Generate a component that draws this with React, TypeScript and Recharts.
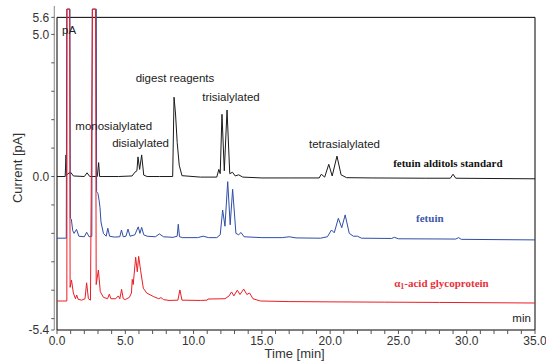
import { LineChart, Line, XAxis, YAxis, ReferenceLine, ReferenceDot } from 'recharts';

// retention time [min] and detector current [pA] for each trace
const standardTime = [0, 0.6, 0.66, 0.7, 0.8, 1.0, 1.2, 2.0, 2.2, 2.4, 2.95, 3.05, 3.12, 3.3, 4.5, 5.5, 5.7, 5.85, 5.93, 6.05, 6.2, 6.35, 6.6, 7.5, 8.47, 8.57, 8.68, 8.8, 8.95, 9.15, 10.5, 11.7, 11.85, 11.95, 12.08, 12.25, 12.45, 12.65, 12.85, 13.05, 13.3, 13.6, 15, 17, 19.2, 19.35, 19.6, 19.9, 20.15, 20.5, 20.8, 21.2, 23, 27, 28.8, 29.0, 29.2, 32, 35];
const standardCurrent = [0, 0, 0.76, 0.05, 0.1, 0.15, 0.02, 0, 0.13, 0, 0, 0.49, 0, 0, 0, 0.02, 0.15, 0.2, 0.69, 0.25, 0.76, 0.05, 0, 0, 0, 2.79, 2.2, 1.2, 0.4, 0.03, -0.02, -0.02, 0.25, 0.1, 2.19, 0.2, 2.34, 0.1, 0.15, 0.02, 0.06, -0.02, -0.05, -0.05, -0.05, 0.08, -0.02, 0.43, 0.02, 0.72, 0.06, -0.04, -0.05, -0.06, -0.06, 0.08, -0.06, -0.07, -0.08];

const fetuinTime = [0, 0.68, 0.71, 0.95, 0.98, 1.05, 1.15, 1.25, 1.43, 1.6, 2.0, 2.17, 2.35, 2.55, 2.58, 2.88, 2.9, 3.0, 3.08, 3.15, 3.22, 3.4, 3.6, 3.72, 3.85, 4.2, 4.6, 4.72, 4.85, 5.05, 5.2, 5.35, 5.7, 5.95, 6.07, 6.2, 6.35, 6.6, 7.2, 7.5, 7.8, 8.5, 8.8, 8.88, 8.97, 9.2, 10.3, 10.7, 11.1, 11.7, 11.95, 12.13, 12.3, 12.5, 12.68, 12.86, 13.1, 13.3, 13.47, 13.7, 15, 16.5, 17, 17.5, 19.3, 19.8, 20.1, 20.3, 20.6, 20.85, 21.1, 21.4, 21.7, 22.0, 22.3, 24.5, 24.7, 25, 29.2, 29.4, 29.6, 35];
const fetuinCurrent = [-2.17, -2.17, 5.89, 5.89, -1.47, -1.5, -1.9, -2.0, -1.86, -2.1, -2.12, -1.96, -2.12, -2.1, 5.89, 5.89, -0.53, -0.6, -0.83, -1.1, -1.6, -2.0, -2.1, -1.82, -2.1, -2.13, -2.12, -1.88, -2.12, -2.1, -1.85, -2.1, -2.05, -1.77, -2.0, -1.79, -2.05, -2.1, -2.12, -2.02, -2.12, -2.14, -2.1, -1.68, -2.12, -2.15, -2.15, -2.1, -2.15, -2.15, -2.05, -1.18, -1.75, -0.18, -1.7, -0.45, -2.0, -2.05, -1.97, -2.12, -2.15, -2.15, -2.12, -2.16, -2.17, -2.12, -1.88, -1.98, -1.47, -1.8, -1.35, -2.0, -2.1, -2.1, -2.17, -2.18, -2.14, -2.19, -2.2, -2.15, -2.21, -2.23];

const agpTime = [0, 0.72, 0.74, 0.92, 0.96, 1.06, 1.2, 1.35, 1.44, 1.55, 1.8, 2.05, 2.17, 2.3, 2.45, 2.6, 2.82, 2.87, 3.03, 3.17, 3.4, 3.7, 3.83, 3.95, 4.3, 4.49, 4.6, 4.73, 4.85, 5.0, 5.3, 5.45, 5.51, 5.58, 5.76, 5.88, 5.98, 6.12, 6.32, 6.57, 7.05, 7.45, 7.61, 7.8, 8.2, 8.85, 9.0, 9.15, 10.5, 11.0, 11.05, 12.3, 12.6, 12.78, 12.95, 13.2, 13.4, 13.67, 13.9, 14.1, 14.35, 14.9, 17, 20, 24, 28, 35];
const agpCurrent = [-4.38, -4.38, 5.89, 5.89, -3.9, -3.64, -4.1, -4.3, -4.17, -4.32, -4.35, -4.3, -3.74, -4.3, -4.35, 5.89, 5.89, -3.8, -3.29, -4.05, -4.25, -4.3, -4.14, -4.3, -4.3, -4.2, -4.3, -3.97, -4.3, -4.33, -4.25, -4.1, -3.62, -3.8, -2.84, -3.35, -2.81, -3.3, -3.93, -4.1, -4.22, -4.3, -4.26, -4.33, -4.36, -4.35, -3.99, -4.35, -4.36, -4.35, -4.31, -4.3, -4.2, -4.06, -4.2, -4.0, -4.15, -3.96, -4.15, -4.1, -4.3, -4.38, -4.4, -4.41, -4.42, -4.43, -4.45];

const xTicks = Array.from({ length: 36 }, (_, i) => i);
const yTicks = [-5.4, -5, -4, -3, -2, -1, 0, 1, 2, 3, 4, 5, 5.6];
const yLabelled = [-5.4, 0, 5, 5.6];

const toPoints = (ts: number[], vs: number[]) => ts.map((t, i) => ({ t, v: vs[i] }));

const SANS = 'Liberation Sans, Arial, sans-serif';
const SERIF = 'Liberation Serif, Times New Roman, serif';

type Note = { text: string; t: number; v: number; anchor?: 'start' | 'middle' | 'end'; color?: string; serif?: boolean };

const notes: Note[] = [
  { text: 'pA', t: 0.37, v: 5.15, anchor: 'start' },
  { text: 'monosialylated', t: 4.15, v: 1.78 },
  { text: 'disialylated', t: 6.12, v: 1.18 },
  { text: 'digest reagents', t: 8.64, v: 3.46 },
  { text: 'trisialylated', t: 12.74, v: 2.8 },
  { text: 'tetrasialylated', t: 21.05, v: 1.14 },
  { text: 'fetuin alditols standard', t: 28.62, v: 0.47, color: '#111', serif: true },
  { text: 'fetuin', t: 27.3, v: -1.46, color: '#3a58ad', serif: true },
  { text: 'min', t: 34.7, v: -4.97, anchor: 'end' },
];

function noteLabel(n: Note) {
  return (props: any) => {
    const vb = props.viewBox || {};
    return (
      <text
        x={vb.x}
        y={vb.y}
        textAnchor={n.anchor || 'middle'}
        dominantBaseline="central"
        fontFamily={n.serif ? SERIF : SANS}
        fontWeight={n.serif ? 'bold' : 'normal'}
        fontSize={n.serif ? 11 : 11.5}
        fill={n.color || '#222'}
      >
        {n.text}
      </text>
    );
  };
}

function agpLabel(props: any) {
  const vb = props.viewBox || {};
  return (
    <text x={vb.x} y={vb.y} textAnchor="middle" dominantBaseline="central" fontFamily={SERIF} fontWeight="bold" fontSize={11} fill="#e8303a">
      <tspan>α</tspan>
      <tspan dy={3} fontSize={8}>1</tspan>
      <tspan dy={-3}>-acid glycoprotein</tspan>
    </text>
  );
}

export default function App() {
  const standard = toPoints(standardTime, standardCurrent);
  const fetuin = toPoints(fetuinTime, fetuinCurrent);
  const agp = toPoints(agpTime, agpCurrent);

  return (
    <div style={{ width: 546, height: 362, background: '#fff' }}>
      <style>{'body{margin:0}'}</style>
      <LineChart width={546} height={362} margin={{ top: 6, right: 11, bottom: 0, left: 0 }}>
        <XAxis
          type="number"
          dataKey="t"
          domain={[-0.2, 35]}
          ticks={xTicks}
          interval={0}
          axisLine={false}
          tickSize={4}
          tickLine={{ stroke: '#555' }}
          tick={{ fontSize: 12, fontFamily: SANS, fill: '#333' }}
          tickFormatter={(v: number) => (v % 5 === 0 ? v.toFixed(1) : '')}
          height={32}
          label={{ value: 'Time [min]', position: 'insideBottom', offset: 4, fontSize: 13, fontFamily: SANS, fill: '#333' }}
        />
        <YAxis
          type="number"
          domain={[-5.4, 6]}
          ticks={yTicks}
          interval={0}
          width={54.27}
          axisLine={{ stroke: '#888' }}
          tickSize={3}
          tickLine={{ stroke: '#555' }}
          tick={{ fontSize: 12, fontFamily: SANS, fill: '#333' }}
          tickFormatter={(v: number) => (yLabelled.includes(v) ? v.toFixed(1) : '')}
          label={{
            content: () => (
              <text transform="translate(17,168) rotate(-90)" textAnchor="middle" dominantBaseline="central" fontSize={13} fontFamily={SANS} fill="#333">
                Current [pA]
              </text>
            ),
          }}
        />
        <ReferenceLine segment={[{ x: 0, y: -5.4 }, { x: 0, y: 5.6 }]} stroke="#000" />
        <ReferenceLine segment={[{ x: 35, y: -5.4 }, { x: 35, y: 5.6 }]} stroke="#000" />
        <ReferenceLine segment={[{ x: 0, y: 5.6 }, { x: 35, y: 5.6 }]} stroke="#000" />
        <ReferenceLine segment={[{ x: 0, y: -5.4 }, { x: 35, y: -5.4 }]} stroke="#000" />
        <Line data={standard} dataKey="v" type="linear" stroke="#1a1a1a" strokeWidth={1} dot={false} isAnimationActive={false} />
        <Line data={fetuin} dataKey="v" type="linear" stroke="#2f4ea6" strokeWidth={1} dot={false} isAnimationActive={false} />
        <Line data={agp} dataKey="v" type="linear" stroke="#ec1c24" strokeWidth={1} dot={false} isAnimationActive={false} />
        {notes.map((n) => (
          <ReferenceDot key={n.text} x={n.t} y={n.v} r={0} fill="none" stroke="none" label={noteLabel(n)} />
        ))}
        <ReferenceDot x={28.15} y={-3.75} r={0} fill="none" stroke="none" label={agpLabel} />
      </LineChart>
    </div>
  );
}
